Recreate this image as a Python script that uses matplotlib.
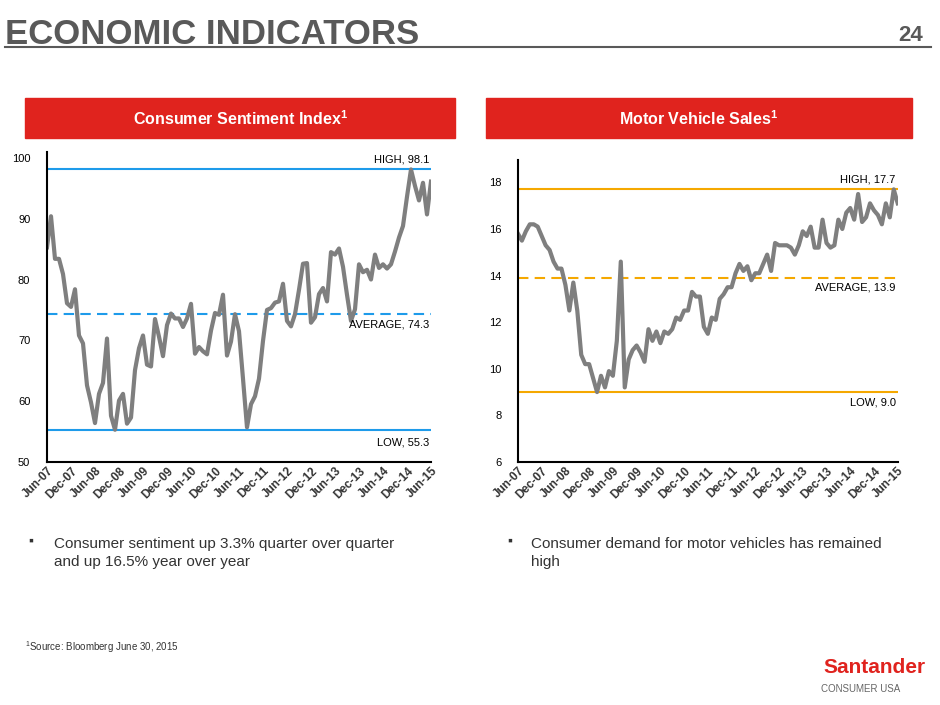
import matplotlib
matplotlib.use("Agg")
import matplotlib.pyplot as plt
import matplotlib.transforms as mt
import numpy as np

plt.rcParams['font.family'] = ['Liberation Sans', 'DejaVu Sans']
plt.rcParams['mathtext.fontset'] = 'custom'
plt.rcParams['mathtext.rm'] = 'Liberation Sans'
plt.rcParams['mathtext.bf'] = 'Liberation Sans:bold'

months = ["Jun-07","Dec-07","Jun-08","Dec-08","Jun-09","Dec-09","Jun-10","Dec-10","Jun-11",
          "Dec-11","Jun-12","Dec-12","Jun-13","Dec-13","Jun-14","Dec-14","Jun-15"]
sentiment = [85.3,90.4,83.4,83.4,80.9,76.1,75.5,78.4,70.8,69.5,62.6,59.8,56.4,61.2,63.0,70.3,57.6,55.3,
             60.1,61.2,56.3,57.3,65.1,68.7,70.8,66.0,65.7,73.5,70.6,67.4,72.5,74.4,73.6,73.6,72.2,73.6,
             76.0,67.8,68.9,68.2,67.7,71.6,74.5,74.2,77.5,67.5,69.8,74.3,71.5,63.7,55.7,59.5,60.8,63.7,
             69.9,75.0,75.3,76.2,76.4,79.3,73.2,72.3,74.3,78.3,82.6,82.7,72.9,73.8,77.6,78.6,76.4,84.5,
             84.1,85.1,82.1,77.5,73.2,75.1,82.5,81.2,81.6,80.0,84.1,81.9,82.5,81.8,82.5,84.6,86.9,88.8,
             93.6,98.1,95.4,93.0,95.9,90.7,96.1]
sales = [15.8,15.5,15.9,16.2,16.2,16.1,15.7,15.3,15.1,14.6,14.3,14.3,13.6,12.5,13.7,12.5,10.6,10.2,10.2,
         9.6,9.0,9.7,9.2,9.9,9.7,11.2,14.6,9.2,10.4,10.8,11.0,10.7,10.3,11.7,11.2,11.6,11.1,11.6,11.5,
         11.7,12.2,12.1,12.5,12.5,13.3,13.1,13.1,11.8,11.5,12.2,12.1,13.0,13.2,13.5,13.5,14.1,14.5,14.2,
         14.4,13.8,14.1,14.1,14.5,14.9,14.2,15.4,15.3,15.3,15.3,15.2,14.9,15.3,15.9,15.7,16.1,15.2,15.2,
         16.4,15.4,15.2,15.3,16.4,16.0,16.7,16.9,16.4,17.5,16.3,16.5,17.1,16.8,16.6,16.2,17.1,16.5,17.7,17.1]
s_high, s_avg, s_low = 98.1, 74.3, 55.3
v_high, v_avg, v_low = 17.7, 13.9, 9.0

fig = plt.figure(figsize=(9.4, 7.05), dpi=100)
gray = "#595959"
fig.text(0.005, 0.937, "ECONOMIC INDICATORS", fontsize=25, fontweight="bold", color=gray)
fig.text(0.982, 0.942, "24", fontsize=16, fontweight="bold", color=gray, ha="right")
fig.add_artist(plt.Line2D([0.005, 0.99], [0.933, 0.933], color=gray, lw=1.5))

red = "#E0231E"
for x0, w, title in [(0.027, 0.457, "Consumer Sentiment Index$^{\\mathbf{1}}$"),
                     (0.517, 0.453, "Motor Vehicle Sales$^{\\mathbf{1}}$")]:
    fig.add_artist(plt.Rectangle((x0, 0.804), w, 0.057, color=red, transform=fig.transFigure))
    fig.text(x0 + w / 2, 0.832, title, ha="center", va="center", color="white", fontsize=11.5, fontweight="bold")

x = np.arange(len(sentiment))
def setup(ax, ylim, yticks):
    ax.set_xlim(0, 96)
    ax.set_ylim(*ylim)
    ax.set_yticks(yticks)
    ax.set_xticks(np.arange(0, 97, 6))
    ax.set_xticklabels(months, rotation=45, ha="right", va="top", rotation_mode="anchor",
                       fontsize=8.5, fontweight="bold", color="#333333")
    off = mt.ScaledTranslation(4/72, -2/72, fig.dpi_scale_trans)
    for lab in ax.get_xticklabels():
        lab.set_transform(lab.get_transform() + off)
    for s in ["top", "right"]:
        ax.spines[s].set_visible(False)
    ax.spines["left"].set_linewidth(1.5)
    ax.spines["bottom"].set_linewidth(1.5)
    ax.tick_params(axis="y", length=0, labelsize=8, pad=12)
    ax.tick_params(axis="x", length=0, pad=2)

ax1 = fig.add_axes([0.05, 0.3447, 0.4085, 0.44])
setup(ax1, (50, 101), [50, 60, 70, 80, 90, 100])
blue = "#1E9BEA"
ax1.axhline(s_high, color=blue, lw=1.5)
ax1.axhline(s_low, color=blue, lw=1.5)
ax1.axhline(s_avg, color=blue, lw=1.5, ls=(0, (5, 3)))
ax1.plot(x, sentiment, color="#7F7F7F", lw=3)
ax1.text(95.5, s_high + 0.8, f"HIGH, {s_high}", ha="right", va="bottom", fontsize=8)
ax1.text(95.5, s_avg - 0.8, f"AVERAGE, {s_avg}", ha="right", va="top", fontsize=8)
ax1.text(95.5, s_low - 1.3, f"LOW, {s_low}", ha="right", va="top", fontsize=8)

ax2 = fig.add_axes([0.551, 0.3447, 0.404, 0.428])
setup(ax2, (6, 18.95), [6, 8, 10, 12, 14, 16, 18])
orange = "#F5A800"
ax2.axhline(v_high, color=orange, lw=1.5)
ax2.axhline(v_low, color=orange, lw=1.5)
ax2.axhline(v_avg, color=orange, lw=1.5, ls=(0, (5, 3)))
ax2.plot(x, sales, color="#7F7F7F", lw=3)
ax2.text(95.5, v_high + 0.2, f"HIGH, {v_high}", ha="right", va="bottom", fontsize=8)
ax2.text(95.5, v_avg - 0.2, f"AVERAGE, {v_avg}", ha="right", va="top", fontsize=8)
ax2.text(95.5, v_low - 0.25, f"LOW, {v_low}", ha="right", va="top", fontsize=8)

for bx, tx, lines in [(0.030, 0.057, ["Consumer sentiment up 3.3% quarter over quarter", "and up 16.5% year over year"]),
                      (0.540, 0.565, ["Consumer demand for motor vehicles has remained", "high"])]:
    fig.text(bx, 0.228, "▪", fontsize=10, color="#333333")
    fig.text(tx, 0.197, "\n".join(lines), fontsize=11, color="#333333", linespacing=1.4)
fig.text(0.027, 0.077, "$^1$Source: Bloomberg June 30, 2015", fontsize=7, color="#333333")
fig.text(0.985, 0.045, "Santander", fontsize=15, color=red, ha="right", fontweight="bold")
fig.text(0.958, 0.018, "CONSUMER USA", fontsize=7, color="#666666", ha="right")
fig.savefig("out.png", dpi=100)
